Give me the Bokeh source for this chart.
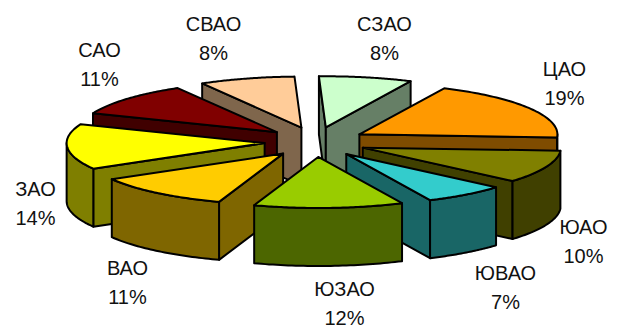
import numpy as np
from bokeh.core.properties import value
from bokeh.embed import file_html
from bokeh.plotting import figure
from bokeh.resources import INLINE

# Moscow administrative districts and their shares, in percent
districts = ["СЗАО", "ЦАО", "ЮАО", "ЮВАО", "ЮЗАО", "ВАО", "ЗАО", "САО", "СВАО"]
shares = [7.6, 18.9, 10.4, 6.7, 12.2, 11.4, 14.4, 10.6, 7.8]
top_colors = ["#CCFFCC", "#FF9900", "#808000", "#33CCCC", "#99CC00",
              "#FFCC00", "#FFFF00", "#800000", "#FFCC99"]

# Label centres on the page, one pair per district
label_x = [384, 564, 583, 505, 344, 127, 35, 99, 213]
label_y = [23, 68, 226, 272, 288, 267, 188, 49, 23]
line_gap = 29

# Projection of the tilted, exploded pie
CX, CY = 315.0, 141.5
RX, RY = 198.0, 51.0
EX, EY = 51.0, 15.0
DEPTH = 58.0
START_DEG = -2.0


def darker(color):
    r, g, b = (int(color[i:i + 2], 16) // 2 for i in (1, 3, 5))
    return f"#{r:02X}{g:02X}{b:02X}"


def rim(ax, ay, deg):
    rad = np.radians(deg)
    return ax + RX * np.sin(rad), ay - RY * np.cos(rad)


def wedge_layers(start, end, top, side):
    """Polygons of one slice, painted back to front: radial walls, rim wall, top."""
    mid = np.radians((start + end) / 2)
    ax = CX + EX * np.sin(mid)
    ay = CY - EY * np.cos(mid)
    layers = []

    # A radial wall faces the viewer depending on which side of the vertical it lies
    for deg, visible in ((start, np.sin(np.radians(start)) < 0),
                         (end, np.sin(np.radians(end)) > 0)):
        if visible:
            x, y = rim(ax, ay, deg)
            layers.append(([ax, x, x, ax], [ay, y, y + DEPTH, ay + DEPTH], side))

    # Only the front half of the rim is seen
    lo, hi = max(start, 90), min(end, 270)
    if lo < hi:
        deg = np.linspace(lo, hi, 40)
        x, y = rim(ax, ay, deg)
        layers.append((list(x) + list(x[::-1]),
                       list(y) + list((y + DEPTH)[::-1]), side))

    deg = np.linspace(start, end, 60)
    x, y = rim(ax, ay, deg)
    layers.append(([ax] + list(x), [ay] + list(y), top))
    return ay, layers


edges = START_DEG + 3.6 * np.concatenate(([0], np.cumsum(shares)))
slices = [wedge_layers(edges[i], edges[i + 1], top_colors[i], darker(top_colors[i]))
          for i in range(len(shares))]
slices.sort(key=lambda s: s[0])

xs, ys, fills = [], [], []
for _, layers in slices:
    for px, py, color in layers:
        xs.append(px)
        ys.append(py)
        fills.append(color)

p = figure(width=620, height=327, x_range=(0, 620), y_range=(327, 0),
           output_backend="svg", toolbar_location=None, min_border=0,
           outline_line_color=None, background_fill_color="white",
           border_fill_color="white")
p.axis.visible = False
p.grid.visible = False

p.patches(xs, ys, fill_color=fills, line_color="black", line_width=2,
          line_join="round")

font = value("Liberation Sans")
p.text(label_x, label_y, text=districts, text_font=font, text_font_size="20px",
       text_color="#111111", text_align="center", text_baseline="middle")
p.text(label_x, [y + line_gap for y in label_y],
       text=[f"{round(s)}%" for s in shares],
       text_font=font, text_font_size="20px", text_color="#111111",
       text_align="center", text_baseline="middle")

open("out.html", "w").write(file_html(p, INLINE))
